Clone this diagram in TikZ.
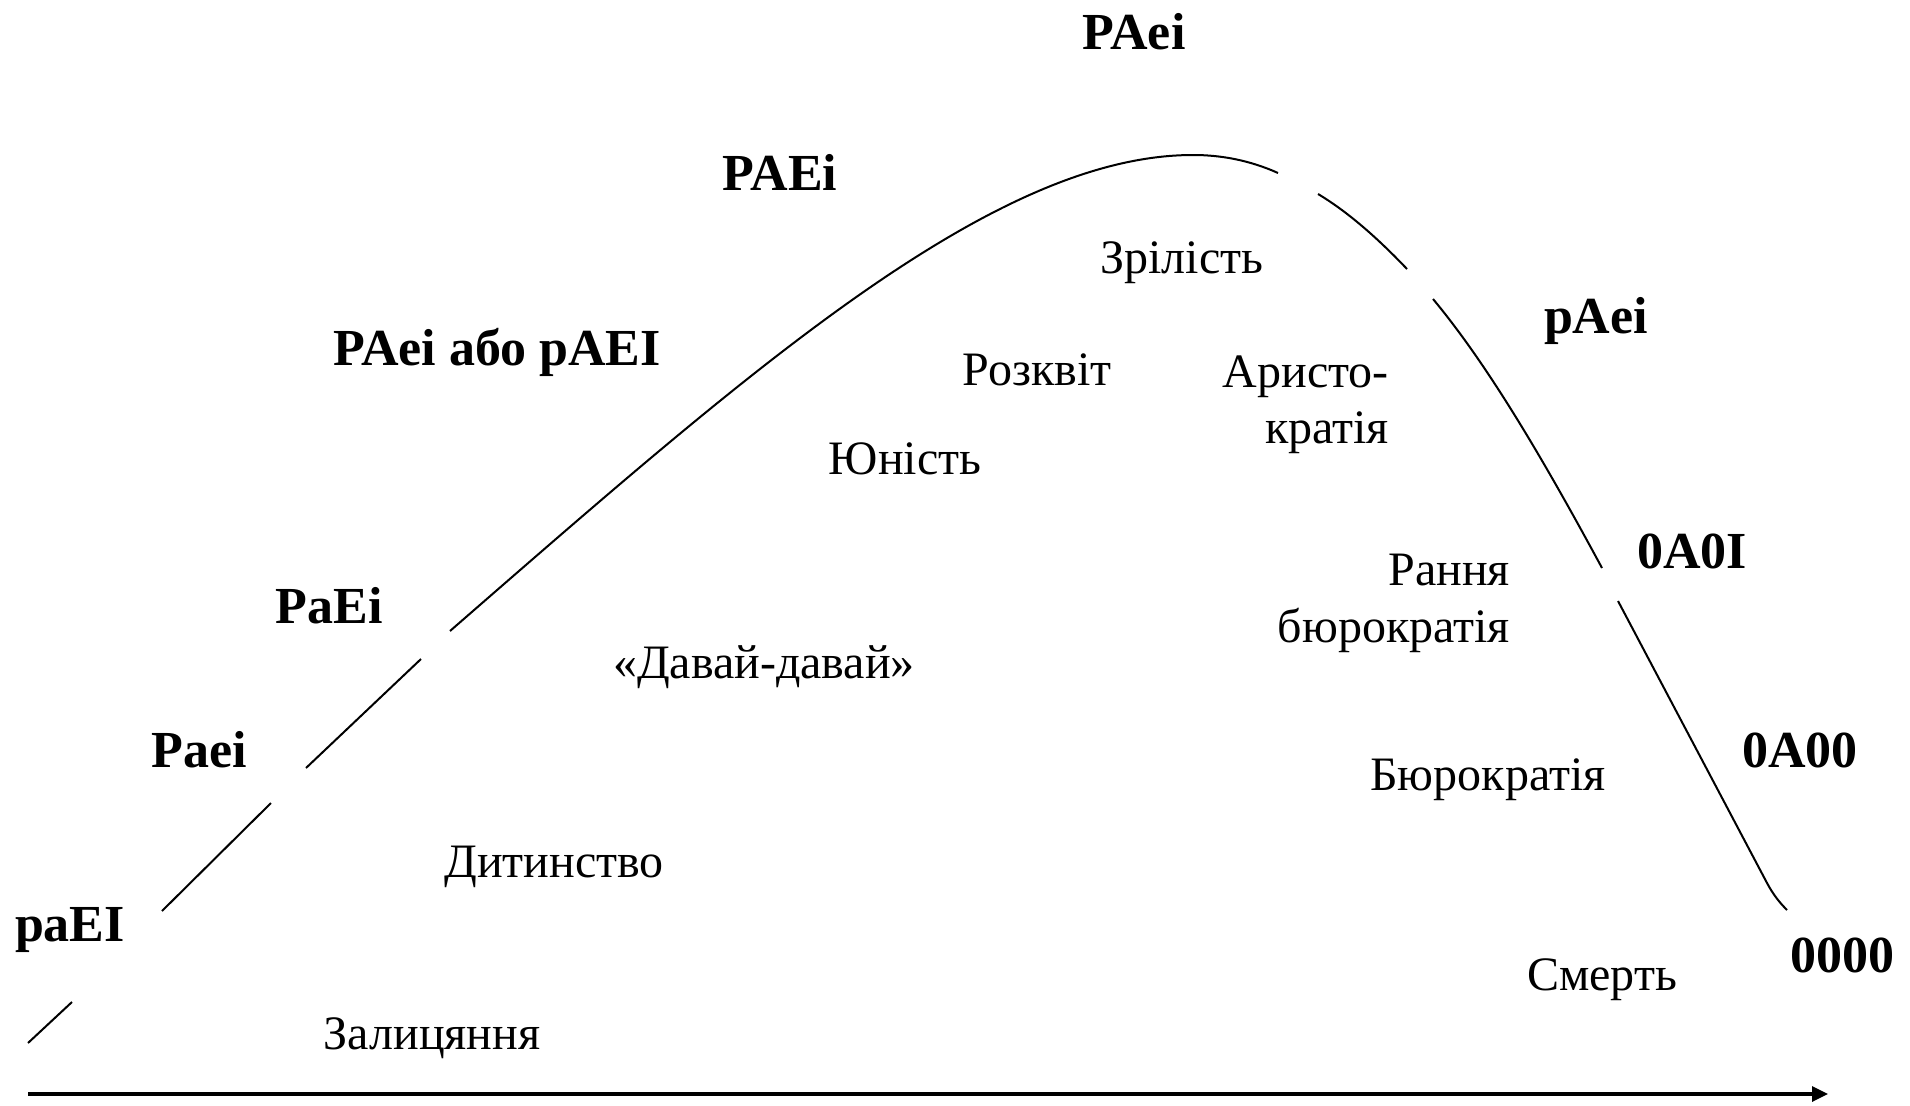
\documentclass[tikz,border=0pt]{standalone}
\usepackage{fontspec}
\setmainfont{Liberation Serif}
\usetikzlibrary{arrows.meta}
\tikzset{
  lbl/.style={font=\fontsize{52}{60}\selectfont\bfseries, inner sep=0pt, anchor=base},
  stage/.style={font=\fontsize{48}{56}\selectfont, inner sep=0pt, anchor=base},
  stageR/.style={stage, anchor=base east},
  curveline/.style={line width=2pt, line cap=butt},
  axisline/.style={line width=3.2pt, -{Triangle[length=16pt,width=15pt]}}
}
\begin{document}
\begin{tikzpicture}[x=1pt,y=-1pt]
\useasboundingbox (0,0) rectangle (1910,1105);

% life-cycle curve (broken into pieces)
\draw[curveline] (28,1043) -- (72,1002);
\draw[curveline] (162,911) -- (271,803);
\draw[curveline] (306,768) -- (421,659);
\draw[curveline] (450,631) .. controls (750,370) and (993,155) .. (1193,155)
                           .. controls (1221.3,155) and (1249.7,160.3) .. (1278,173);
\draw[curveline] (1318,194) .. controls (1347.7,211.8) and (1377.3,237.8) .. (1407,269);
\draw[curveline] (1433,299) .. controls (1489.3,366.6) and (1545.7,463.8) .. (1602,568);
\draw[curveline] (1618,601) -- (1767,883) .. controls (1773.7,895.6) and (1780.3,903.3) .. (1787,910);

% time axis
\coordinate (axstart) at (28,1094);
\coordinate (axend) at (1828,1094);
\draw[axisline] (axstart) -- (axend);

% PAEI codes
\node[lbl] (c1) at (1134,50) {PAei};
\node[lbl] (c2) at (780,190) {PAEi};
\node[lbl] (c3) at (497,365) {PAei або pAEI};
\node[lbl] (c4) at (329,623) {PaEi};
\node[lbl] (c5) at (199,767) {Paei};
\node[lbl] (c6) at (70,941) {paEI};
\node[lbl] (c7) at (1596,333) {pAei};
\node[lbl] (c8) at (1692,568) {0A0I};
\node[lbl] (c9) at (1800,767) {0A00};
\node[lbl] (c10) at (1842,972) {0000};

% stages
\node[stage] (s1) at (1182,273) {Зрілість};
\node[stage] (s2) at (1037,385) {Розквіт};
\node[stageR] (s3a) at (1389,387) {Аристо-};
\node[stageR] (s3b) at (1389,443) {кратія};
\node[stage] (s4) at (905,474) {Юність};
\node[stageR] (s5a) at (1510,585) {Рання};
\node[stageR] (s5b) at (1510,642) {бюрократія};
\node[stage] (s6) at (764,678) {«Давай-давай»};
\node[stage] (s7) at (1488,790) {Бюрократія};
\node[stage] (s8) at (554,877) {Дитинство};
\node[stage] (s9) at (1602,990) {Смерть};
\node[stage] (s10) at (432,1049) {Залицяння};
\end{tikzpicture}
\end{document}
